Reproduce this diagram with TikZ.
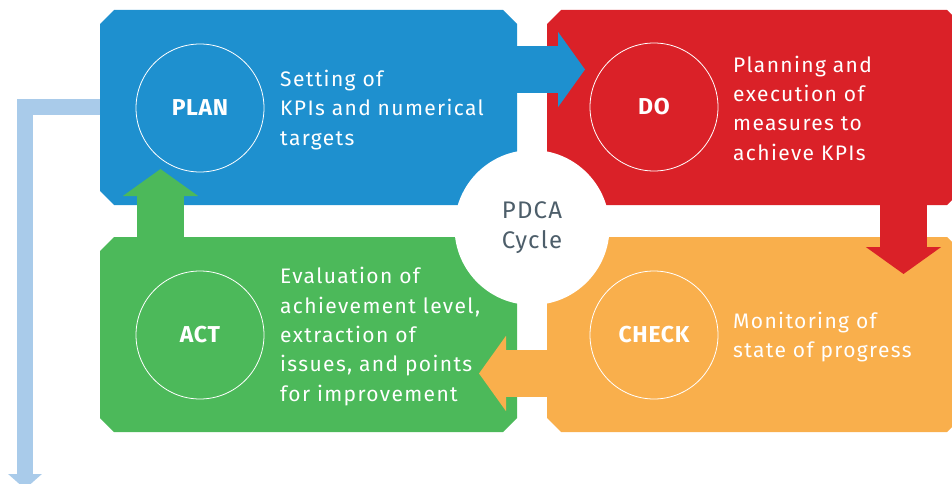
\documentclass[tikz,border=0pt]{standalone}
\usepackage{fontspec}
\setmainfont{Fira Sans}
\usetikzlibrary{arrows.meta}
\definecolor{pdcablue}{HTML}{1E90CF}
\definecolor{pdcared}{HTML}{DA2128}
\definecolor{pdcaorange}{HTML}{F9AF4C}
\definecolor{pdcagreen}{HTML}{4CB95A}
\definecolor{pdcalight}{HTML}{A9CBEA}
\definecolor{pdcagrey}{HTML}{4D5E6A}
\tikzset{
  quarter/.style={rectangle, minimum width=417pt, minimum height=195pt, inner sep=0pt, outer sep=0pt},
  ring/.style={circle, draw=white, line width=0.8pt, minimum size=128pt, text=white,
    font=\fontsize{23}{26}\selectfont\bfseries\addfontfeature{LetterSpace=3}},
  info/.style={anchor=west, align=left, text=white, inner sep=0pt,
    font=\fontsize{21}{29.3}\selectfont\addfontfeature{LetterSpace=6.5}},
  bigarrow/.style={line width=47pt, -{Triangle[width=74pt,length=27pt]}}
}
\begin{document}
\begin{tikzpicture}[x=1pt,y=-1pt]
    \useasboundingbox (0,0) rectangle (952,484);
    \clip (0,0) rectangle (952,484);
    \node[quarter] (plan) at (308.5,107.5) {};
    \node[quarter, minimum width=414pt] (do) at (754,107.5) {};
    \node[quarter, minimum width=414pt] (check) at (754,334.5) {};
    \node[quarter] (act) at (308.5,334.5) {};
    \foreach \q/\col in {plan/pdcablue, do/pdcared, check/pdcaorange, act/pdcagreen}
      \fill[\col] ([xshift=14pt]\q.north west) -- ([xshift=-14pt]\q.north east) -- ([yshift=-14pt]\q.north east)
        -- ([yshift=14pt]\q.south east) -- ([xshift=-14pt]\q.south east) -- ([xshift=14pt]\q.south west)
        -- ([yshift=14pt]\q.south west) -- ([yshift=-14pt]\q.north west) -- cycle;
    \coordinate (tipdo) at (585,69.5);
    \coordinate (tipcheck) at (903.5,274);
    \coordinate (tipact) at (479,373.5);
    \coordinate (tipplan) at (160.5,169);
    \coordinate (exit) at (25,489);
    \draw[bigarrow, color=pdcablue] (plan.east |- tipdo) -- (tipdo);
    \draw[bigarrow, color=pdcared] (do.south -| tipcheck) -- (tipcheck);
    \draw[bigarrow, color=pdcaorange] (check.west |- tipact) -- (tipact);
    \draw[bigarrow, color=pdcagreen] (act.north -| tipplan) -- (tipplan);
    \draw[line width=16pt, color=pdcalight, -{Triangle[width=33pt,length=15pt]}] (plan.west) -- (exit |- plan.west) -- (exit);
    \node[circle, fill=white, minimum size=155pt, align=center, text=pdcagrey,
      font=\fontsize{24}{30}\selectfont\addfontfeature{LetterSpace=5}] (cycle) at (532,227.5) {PDCA\\Cycle};
    \node[ring] (planring) at (200,108) {PLAN};
    \node[ring] (doring) at (654,107) {DO};
    \node[ring] (checkring) at (654,335) {CHECK};
    \node[ring] (actring) at (200,335) {ACT};
    \node[info] (plantext) at (280,110) {Setting of\\KPIs and numerical\\targets};
    \node[info] (dotext) at (733,108) {Planning and\\execution of\\measures to\\achieve KPIs};
    \node[info] (checktext) at (733,337) {Monitoring of\\state of progress};
    \node[info] (acttext) at (280,336.5) {Evaluation of\\achievement level,\\extraction of\\issues, and points\\for improvement};
\end{tikzpicture}
\end{document}
